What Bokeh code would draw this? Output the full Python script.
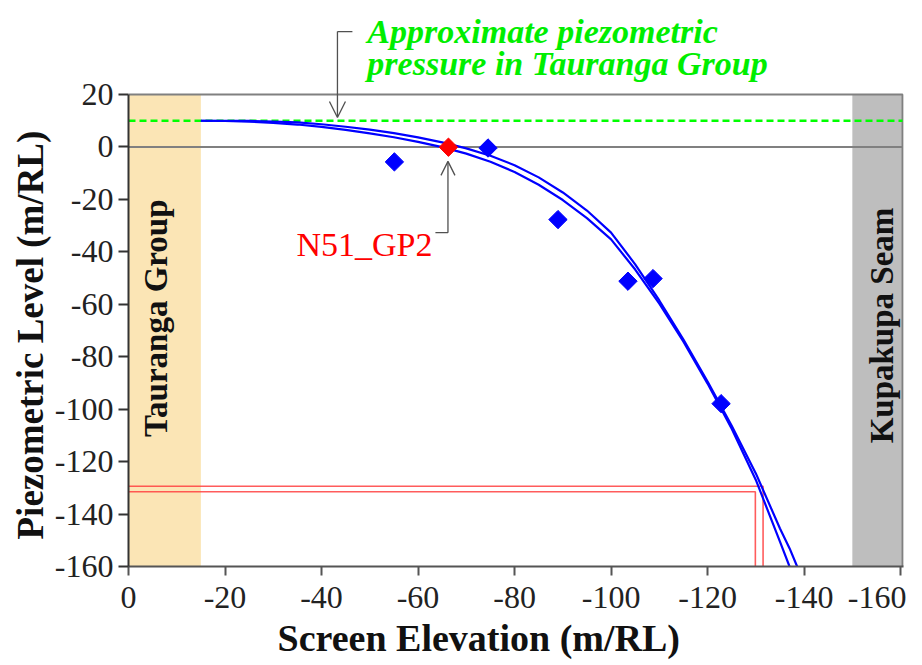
import math
from bokeh.plotting import figure
from bokeh.models import Range1d, FixedTicker, Label, Arrow, OpenHead, Title
from bokeh.embed import file_html
from bokeh.resources import INLINE

# ---------------- data ----------------
x_ticks = [0, -20, -40, -60, -80, -100, -120, -140, -160]
x_tick_labels = ["0", "-20", "-40", "-60", "-80", "-100", "-120", "-140", "-160"]
y_ticks = [20, 0, -20, -40, -60, -80, -100, -120, -140, -160]
y_tick_labels = ["20", "0", "-20", "-40", "-60", "-80", "-100", "-120", "-140", "-160"]

# monitoring wells (screen elevation, piezometric level)
well_x = [-55.1, -74.5, -89.0, -103.5, -108.7, -122.8]
well_y = [-5.7, -0.4, -27.7, -51.2, -50.2, -97.9]
target_name = "N51_GP2"
target_x = [-66.3]
target_y = [-0.1]

# two fitted pressure-decline curves
curve_a_x = [-15, -20, -25, -30, -35, -40, -45, -50, -55, -60, -65, -70, -75, -80, -85,
             -90, -95, -100, -105, -110, -115, -120, -125, -130, -135, -137]
curve_a_y = [10, 9.9, 9.65, 9.2, 8.55, 7.65, 6.5, 5.2, 3.7, 1.95, -0.05, -2.55, -5.65, -9.55, -14.4,
             -20.25, -27.15, -35.25, -46.75, -59.75, -74.25, -90.25, -107.5, -127.0, -150.5, -160.1]
curve_b_x = [-15, -20, -25, -30, -35, -40, -45, -50, -55, -60, -65, -70, -75, -80, -85,
             -90, -95, -100, -105, -110, -115, -120, -125, -130, -135, -137, -138.6]
curve_b_y = [10, 10.0, 9.95, 9.7, 9.35, 8.65, 7.7, 6.6, 5.3, 3.65, 1.75, -0.55, -3.35, -6.95, -11.6,
             -17.35, -24.25, -32.65, -44.75, -58.55, -73.45, -89.45, -106.3, -124.5, -145.5, -153.1, -160.2]

# read-off lines at ~ -130 m piezometric level
readoff_a_x = [0, -131.5, -131.5]
readoff_a_y = [-129.4, -129.4, -160]
readoff_b_x = [0, -129.9, -129.9]
readoff_b_y = [-131.5, -131.5, -160]

tauranga_level = 10.0
zero_level = 0.0
tauranga_zone = [0, -15]
kupakupa_zone = [-150, -160.6]
zone_names = ["Tauranga Group", "Kupakupa Seam"]
green_note = ["Approximate piezometric", "pressure in Tauranga Group"]
x_title = "Screen Elevation (m/RL)"
y_title = "Piezometric Level (m/RL)"

X_MIN, X_MAX = 0, -160.6
Y_MIN, Y_MAX = -160, 20
Y_TOP = 55.85          # frame extended upward to host the note

FONT = "Liberation Serif"
GREY = "#808080"
LEADER = "#505050"

p = figure(frame_width=775, frame_height=566,
           min_border_left=128, min_border_right=3, min_border_top=0, min_border_bottom=0,
           x_range=Range1d(X_MIN, X_MAX), y_range=Range1d(Y_MIN, Y_TOP),
           output_backend="svg", toolbar_location=None,
           background_fill_color="white", border_fill_color="white")
p.xgrid.visible = False
p.ygrid.visible = False
p.outline_line_color = None

# zones
p.quad(left=[tauranga_zone[0]], right=[tauranga_zone[1]], bottom=[Y_MIN], top=[Y_MAX],
       fill_color="#FBE5B5", line_color=None)
p.quad(left=[kupakupa_zone[0]], right=[kupakupa_zone[1]], bottom=[Y_MIN], top=[Y_MAX],
       fill_color="#BEBEBE", line_color=None)

# plot box (top and right borders)
p.line([X_MIN, -160.4, -160.4], [Y_MAX, Y_MAX, Y_MIN], line_color=GREY, line_width=2)

# reference lines
p.line([X_MIN, -160.4], [zero_level, zero_level], line_color=GREY, line_width=2)
p.line([X_MIN, -160.4], [tauranga_level, tauranga_level], line_color="#00FF00", line_width=2.5,
       line_dash="7 4")

# read-off lines
p.line(readoff_a_x, readoff_a_y, line_color="#FF4040", line_width=1.6, line_alpha=0.85)
p.line(readoff_b_x, readoff_b_y, line_color="#FF4040", line_width=1.6, line_alpha=0.85)

# curves
p.line(curve_a_x, curve_a_y, line_color="#0000FF", line_width=2.2)
p.line(curve_b_x, curve_b_y, line_color="#0000FF", line_width=2.2)

# wells
p.scatter(well_x, well_y, marker="square", angle=math.pi / 4, size=13,
          fill_color="#0000FF", line_color="#0000FF")
p.scatter(target_x, target_y, marker="square", angle=math.pi / 4, size=13,
          fill_color="#FF0000", line_color="#FF0000")

# zone labels
p.add_layout(Label(x=-5.7, y=-65.3, text=zone_names[0], angle=math.pi / 2,
                   text_align="center", text_baseline="middle", text_font=FONT,
                   text_font_style="bold", text_font_size="33px", text_color="#111111"))
p.add_layout(Label(x=-156.2, y=-68.1, text=zone_names[1], angle=math.pi / 2,
                   text_align="center", text_baseline="middle", text_font=FONT,
                   text_font_style="bold", text_font_size="33px", text_color="#111111"))

# green note with leader arrow
p.add_layout(Label(x=-49.5, y=44.0, text=green_note[0], text_align="left",
                   text_baseline="alphabetic", text_font=FONT, text_font_style="bold italic",
                   text_font_size="34px", text_color="#00EE00"))
p.add_layout(Label(x=-49.5, y=31.8, text=green_note[1], text_align="left",
                   text_baseline="alphabetic", text_font=FONT, text_font_style="bold italic",
                   text_font_size="34px", text_color="#00EE00"))
p.line([-46.4, -43.3], [44.0, 44.0], line_color=LEADER, line_width=1.3)
p.add_layout(Arrow(x_start=-43.3, y_start=44.0, x_end=-43.3, y_end=11.2,
                   end=OpenHead(size=16, line_color=LEADER, line_width=1.3),
                   line_color=LEADER, line_width=1.3))

# target label with leader arrow
p.add_layout(Label(x=-63.0, y=-37.2, text=target_name, text_align="right",
                   text_baseline="alphabetic", text_font=FONT, text_font_size="34px",
                   text_color="#FF0000"))
p.line([-63.6, -66.2], [-32.7, -32.7], line_color=LEADER, line_width=1.3)
p.add_layout(Arrow(x_start=-66.2, y_start=-32.7, x_end=-66.2, y_end=-5.5,
                   end=OpenHead(size=14, line_color=LEADER, line_width=1.3),
                   line_color=LEADER, line_width=1.3))

# axes
for ax, ticks, labels in ((p.xaxis[0], x_ticks, x_tick_labels), (p.yaxis[0], y_ticks, y_tick_labels)):
    ax.ticker = FixedTicker(ticks=ticks)
    ax.major_label_overrides = {t: l for t, l in zip(ticks, labels)}
    ax.minor_tick_line_color = None
    ax.major_tick_in = 0
    ax.major_tick_out = 10
    ax.major_label_text_font = FONT
    ax.major_label_text_font_size = "32px"
    ax.major_label_text_color = "#222222"
    ax.axis_line_width = 2
    ax.major_tick_line_width = 2

p.yaxis.bounds = (Y_MIN, Y_MAX)
p.xaxis.axis_line_color = "#555555"
p.xaxis.major_tick_line_color = "#555555"
p.yaxis.axis_line_color = "#333333"
p.yaxis.major_tick_line_color = "#333333"
p.xaxis.major_tick_out = 9
p.xaxis.major_label_standoff = 11
p.yaxis.major_label_standoff = 5

p.add_layout(Title(text=x_title, align="left", offset=149, standoff=8,
                   text_font=FONT, text_font_style="bold", text_font_size="38px",
                   text_color="#111111"), "below")
p.add_layout(Title(text=y_title, align="left", offset=27, standoff=2,
                   text_font=FONT, text_font_style="bold", text_font_size="37px",
                   text_color="#111111"), "left")

open("out.html", "w").write(file_html(p, INLINE))
